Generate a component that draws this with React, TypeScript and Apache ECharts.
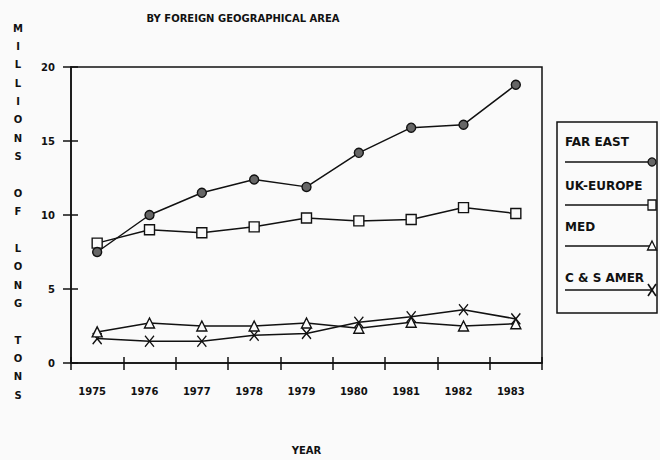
import React, { useEffect, useRef } from "react";
import * as echarts from "echarts";

const years = ["1975", "1976", "1977", "1978", "1979", "1980", "1981", "1982", "1983"];
const farEast = [7.5, 10.0, 11.5, 12.4, 11.9, 14.2, 15.9, 16.1, 18.8];
const ukEurope = [8.1, 9.0, 8.8, 9.2, 9.8, 9.6, 9.7, 10.5, 10.1];
const med = [2.1, 2.7, 2.5, 2.5, 2.7, 2.35, 2.75, 2.5, 2.65];
const csAmer = [1.65, 1.47, 1.47, 1.87, 2.0, 2.75, 3.13, 3.6, 2.98];
const seriesNames = ["FAR EAST", "UK-EUROPE", "MED", "C & S AMER"];
const yTicks = { min: 0, max: 20, interval: 5 };
const titleText = "BY FOREIGN GEOGRAPHICAL AREA";
const yAxisTitle = "MILLIONS OF LONG TONS";
const xAxisTitle = "YEAR";

const FONT = "DejaVu Sans";
const INK = "#111";
const X_PATH = "path://M0,0L8,11M8,0L0,11";

export default function App() {
  const ref = useRef<HTMLDivElement>(null);
  useEffect(() => {
    if (!ref.current) return;
    const chart = echarts.init(ref.current, null, { renderer: "svg" });

    const markers = [
      { symbol: "circle", size: 9, fill: "#666" },
      { symbol: "rect", size: 10, fill: "#fafafa" },
      { symbol: "triangle", size: 10, fill: "#fafafa" },
      { symbol: X_PATH, size: [9, 11], fill: "none" },
    ];
    const datas = [farEast, ukEurope, med, csAmer];

    const series = seriesNames.map((name, i) => ({
      name,
      type: "line",
      data: datas[i],
      symbol: markers[i].symbol,
      symbolSize: markers[i].size,
      showAllSymbol: true,
      lineStyle: { color: INK, width: 1.5 },
      itemStyle: { color: markers[i].fill, borderColor: INK, borderWidth: 1.4 },
      z: 5 - i,
    }));

    // legend graphics
    const lgX = 557, lgY = 122, lgW = 100, lgH = 191;
    const textYs = [142, 186, 227, 278];
    const lineYs = [162, 205, 246, 290];
    const legendEls: any[] = [
      {
        type: "rect",
        shape: { x: lgX, y: lgY, width: lgW, height: lgH },
        style: { fill: "none", stroke: INK, lineWidth: 1.5 },
      },
    ];
    seriesNames.forEach((name, i) => {
      legendEls.push({
        type: "text",
        x: 565,
        y: textYs[i],
        style: {
          text: name,
          fill: INK,
          font: `bold 12px "${FONT}"`,
          textAlign: "left",
          textVerticalAlign: "middle",
        },
      });
      legendEls.push({
        type: "line",
        shape: { x1: 565, y1: lineYs[i], x2: 652, y2: lineYs[i] },
        style: { stroke: INK, lineWidth: 1.5 },
      });
      const cx = 652, cy = lineYs[i];
      if (i === 0) {
        legendEls.push({ type: "circle", shape: { cx, cy, r: 4 }, style: { fill: "#666", stroke: INK, lineWidth: 1.3 } });
      } else if (i === 1) {
        legendEls.push({ type: "rect", shape: { x: cx - 4, y: cy - 5, width: 8, height: 10 }, style: { fill: "#fafafa", stroke: INK, lineWidth: 1.3 } });
      } else if (i === 2) {
        legendEls.push({ type: "polygon", shape: { points: [[cx, cy - 5], [cx + 4.5, cy + 4], [cx - 4.5, cy + 4]] }, style: { fill: "#fafafa", stroke: INK, lineWidth: 1.3 } });
      } else {
        legendEls.push({ type: "line", shape: { x1: cx - 4, y1: cy - 6, x2: cx + 4, y2: cy + 6 }, style: { stroke: INK, lineWidth: 1.6 } });
        legendEls.push({ type: "line", shape: { x1: cx + 4, y1: cy - 6, x2: cx - 4, y2: cy + 6 }, style: { stroke: INK, lineWidth: 1.6 } });
      }
    });

    const yChars = yAxisTitle.split("");

    const axisLabelStyle = { color: INK, fontFamily: FONT, fontWeight: "bold" as const, fontSize: 10 };

    chart.setOption({
      animation: false,
      backgroundColor: "#fafafa",
      grid: {
        left: 71,
        right: 118,
        top: 67,
        bottom: 92,
        show: true,
        borderColor: INK,
        borderWidth: 1.5,
        containLabel: false,
      },
      xAxis: [
        {
          type: "category",
          data: years,
          boundaryGap: true,
          axisLine: { lineStyle: { color: INK, width: 1.5 } },
          axisTick: { show: true, length: 7, inside: false, lineStyle: { color: INK, width: 1.5 } },
          axisLabel: { ...axisLabelStyle, margin: 23, padding: [0, 10, 0, 0] },
          name: xAxisTitle,
          nameLocation: "middle",
          nameGap: 82,
          nameTextStyle: { ...axisLabelStyle },
        },
        {
          type: "category",
          data: years,
          position: "bottom",
          boundaryGap: true,
          axisLine: { show: false },
          axisTick: { show: true, length: 6, inside: true, lineStyle: { color: INK, width: 1.5 } },
          axisLabel: { show: false },
        },
      ],
      yAxis: [
        {
          type: "value",
          min: yTicks.min,
          max: yTicks.max,
          interval: yTicks.interval,
          splitLine: { show: false },
          axisLine: { show: true, lineStyle: { color: INK, width: 1.5 } },
          axisTick: { show: true, length: 8, inside: false, lineStyle: { color: INK, width: 1.5 } },
          axisLabel: { ...axisLabelStyle, margin: 16 },
        },
        {
          type: "value",
          position: "left",
          min: yTicks.min,
          max: yTicks.max,
          interval: yTicks.interval,
          splitLine: { show: false },
          axisLine: { show: false },
          axisTick: { show: true, length: 7, inside: true, lineStyle: { color: INK, width: 1.5 } },
          axisLabel: { show: false },
        },
      ],
      series,
      graphic: [
        {
          type: "text",
          x: 243,
          y: 18,
          style: {
            text: titleText,
            fill: INK,
            font: `bold 10px "${FONT}"`,
            textAlign: "center",
            textVerticalAlign: "middle",
          },
        },
        {
          type: "text",
          x: 18,
          y: 19,
          style: {
            text: yChars.join("\n"),
            fill: INK,
            font: `bold 10px "${FONT}"`,
            lineHeight: 18.35,
            textAlign: "center",
            textVerticalAlign: "top",
          },
        },
        ...legendEls,
      ],
    });
    return () => chart.dispose();
  }, []);
  return (
    <div
      ref={ref}
      style={{ position: "fixed", left: 0, top: 0, width: 660, height: 460 }}
    />
  );
}
